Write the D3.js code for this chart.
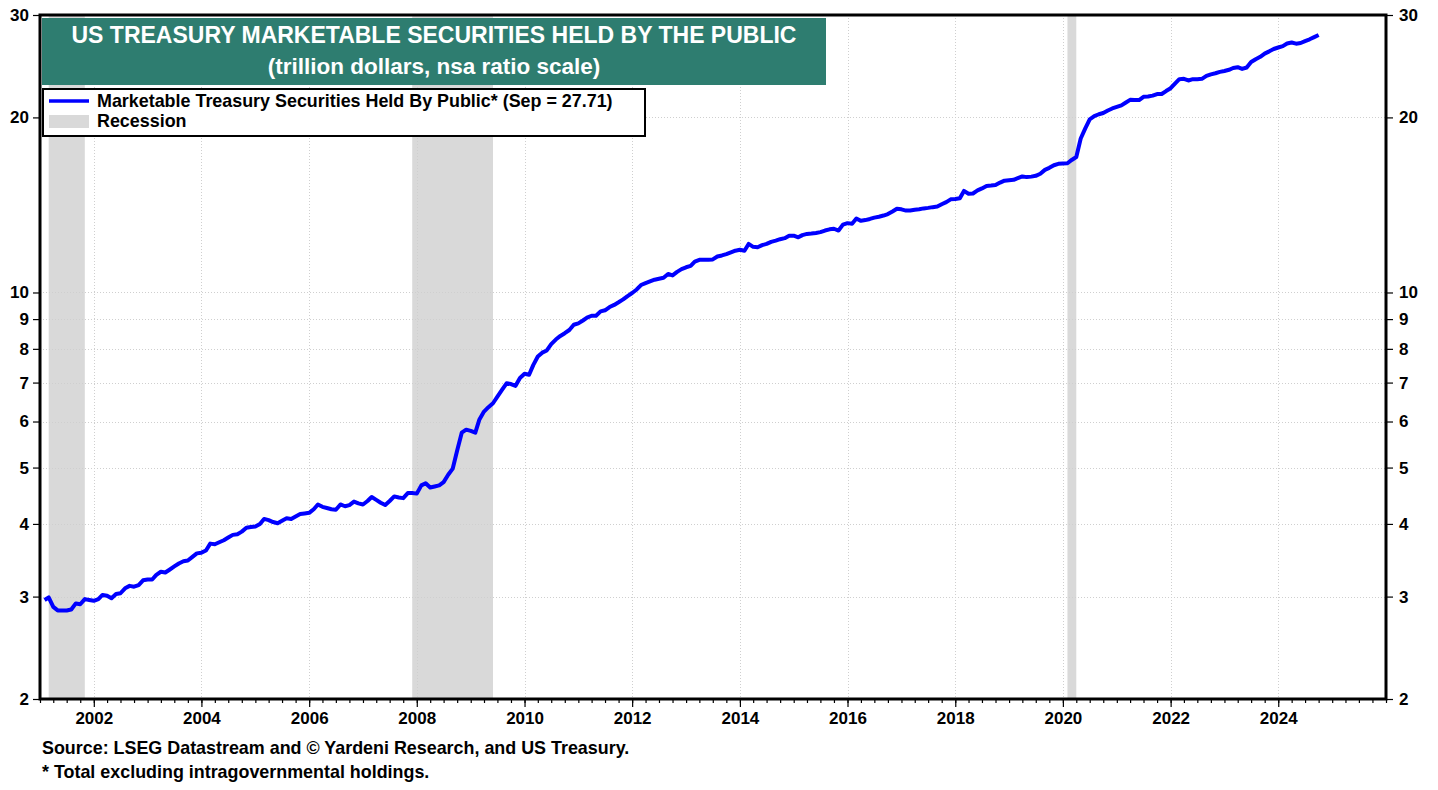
<!DOCTYPE html>
<html>
<head>
<meta charset="utf-8">
<script src="https://cdn.jsdelivr.net/npm/d3@7"></script>
<style>
  body { margin: 0; background: #fff; }
  text { font-family: "Liberation Sans", Arial, sans-serif; font-weight: bold; }
</style>
</head>
<body>
<div id="chart"></div>
<script>
// Marketable Treasury securities held by public, trillion $, monthly from Jan 2001
const firstYear = 2001;
const monthlyValues = [
  // 2001
  2.96, 2.99, 2.88, 2.84, 2.84, 2.84, 2.85, 2.92, 2.91, 2.97, 2.96, 2.95,
  // 2002
  2.97, 3.02, 3.01, 2.98, 3.03, 3.04, 3.10, 3.13, 3.12, 3.14, 3.20, 3.21,
  // 2003
  3.21, 3.27, 3.31, 3.30, 3.34, 3.38, 3.42, 3.45, 3.46, 3.51, 3.56, 3.57,
  // 2004
  3.60, 3.70, 3.69, 3.72, 3.75, 3.79, 3.83, 3.84, 3.88, 3.94, 3.95, 3.96,
  // 2005
  4.00, 4.08, 4.06, 4.03, 4.01, 4.05, 4.09, 4.08, 4.12, 4.16, 4.17, 4.18,
  // 2006
  4.24, 4.32, 4.28, 4.26, 4.24, 4.23, 4.32, 4.29, 4.31, 4.37, 4.34, 4.32,
  // 2007
  4.38, 4.45, 4.40, 4.35, 4.31, 4.38, 4.46, 4.44, 4.43, 4.52, 4.52, 4.51,
  // 2008
  4.66, 4.70, 4.62, 4.64, 4.66, 4.72, 4.86, 4.98, 5.35, 5.74, 5.81, 5.78,
  // 2009
  5.74, 6.05, 6.24, 6.35, 6.45, 6.62, 6.80, 6.98, 6.96, 6.91, 7.13, 7.25,
  // 2010
  7.22, 7.50, 7.76, 7.88, 7.95, 8.15, 8.30, 8.42, 8.51, 8.62, 8.80, 8.85,
  // 2011
  8.95, 9.05, 9.12, 9.12, 9.28, 9.32, 9.44, 9.52, 9.62, 9.73, 9.86, 9.98,
  // 2012
  10.12, 10.30, 10.38, 10.45, 10.52, 10.56, 10.60, 10.76, 10.70, 10.85, 10.97, 11.05,
  // 2013
  11.11, 11.30, 11.38, 11.38, 11.38, 11.40, 11.53, 11.58, 11.64, 11.72, 11.80, 11.84,
  // 2014
  11.80, 12.12, 11.98, 11.96, 12.06, 12.12, 12.22, 12.28, 12.35, 12.40, 12.52, 12.52,
  // 2015
  12.44, 12.55, 12.61, 12.63, 12.66, 12.70, 12.78, 12.84, 12.87, 12.78, 13.08, 13.16,
  // 2016
  13.13, 13.40, 13.28, 13.32, 13.38, 13.45, 13.50, 13.56, 13.64, 13.78, 13.93, 13.90,
  // 2017
  13.83, 13.84, 13.88, 13.90, 13.95, 13.98, 14.02, 14.05, 14.18, 14.30, 14.46, 14.48,
  // 2018
  14.52, 14.95, 14.78, 14.80, 14.98, 15.10, 15.25, 15.27, 15.30, 15.45, 15.57, 15.60,
  // 2019
  15.62, 15.72, 15.83, 15.79, 15.82, 15.87, 16.00, 16.25, 16.38, 16.55, 16.64, 16.66,
  // 2020
  16.68, 16.90, 17.10, 18.40, 19.15, 19.85, 20.10, 20.25, 20.35, 20.55, 20.72, 20.85,
  // 2021
  20.98, 21.20, 21.44, 21.42, 21.42, 21.70, 21.72, 21.80, 21.94, 21.94, 22.20, 22.45,
  // 2022
  22.89, 23.27, 23.30, 23.15, 23.27, 23.27, 23.30, 23.58, 23.72, 23.82, 23.95, 24.04,
  // 2023
  24.15, 24.32, 24.40, 24.23, 24.37, 24.90, 25.18, 25.42, 25.75, 25.98, 26.22, 26.38,
  // 2024
  26.52, 26.80, 26.90, 26.78, 26.85, 27.06, 27.25, 27.48, 27.71
];

// NBER recessions: [peak month, trough month]
const recessions = [["2001-03", "2001-11"], ["2007-12", "2009-06"], ["2020-02", "2020-04"]];

const yTicks = [2, 3, 4, 5, 6, 7, 8, 9, 10, 20, 30];
const xLabelYears = [2002, 2004, 2006, 2008, 2010, 2012, 2014, 2016, 2018, 2020, 2022, 2024];

const titleLines = ["US TREASURY MARKETABLE SECURITIES HELD BY THE PUBLIC", "(trillion dollars, nsa ratio scale)"];
const legendLabels = ["Marketable Treasury Securities Held By Public* (Sep = 27.71)", "Recession"];
const footnotes = ["Source: LSEG Datastream and \u00A9 Yardeni Research, and US Treasury.", "* Total excluding intragovernmental holdings."];

const width = 1438;
const height = 790;
const plotLeft = 40, plotRight = 1386, plotTop = 15, plotBottom = 699;

const parseMonth = d3.timeParse("%Y-%m");
// values plotted at end of month
const series = monthlyValues.map((v, i) => ({ date: new Date(firstYear, i + 1, 1), value: v }));

const x = d3.scaleTime()
  .domain([new Date(2001, 0, 1), new Date(2026, 0, 1)])
  .range([plotLeft, plotRight]);
const y = d3.scaleLog()
  .domain([2, 30])
  .range([plotBottom, plotTop]);

const svg = d3.create("svg")
  .attr("width", width)
  .attr("height", height)
  .attr("viewBox", [0, 0, width, height]);

svg.append("rect").attr("width", width).attr("height", height).attr("fill", "#fff");

// recession bands
svg.append("g")
  .selectAll("rect")
  .data(recessions)
  .join("rect")
  .attr("x", d => x(parseMonth(d[0])))
  .attr("width", d => x(parseMonth(d[1])) - x(parseMonth(d[0])))
  .attr("y", plotTop)
  .attr("height", plotBottom - plotTop)
  .attr("fill", "#d9d9d9");

// grid
const grid = svg.append("g")
  .attr("stroke", "#cfcfcf")
  .attr("stroke-width", 1)
  .attr("stroke-dasharray", "1,2");

grid.selectAll("line.h")
  .data(yTicks.filter(d => d > 2 && d < 30))
  .join("line")
  .attr("class", "h")
  .attr("x1", plotLeft).attr("x2", plotRight)
  .attr("y1", d => Math.round(y(d)) + 0.5)
  .attr("y2", d => Math.round(y(d)) + 0.5);

grid.selectAll("line.v")
  .data(xLabelYears)
  .join("line")
  .attr("class", "v")
  .attr("y1", plotTop).attr("y2", plotBottom)
  .attr("x1", d => Math.round(x(new Date(d, 0, 1))) + 0.5)
  .attr("x2", d => Math.round(x(new Date(d, 0, 1))) + 0.5);

// line
const line = d3.line()
  .x(d => x(d.date))
  .y(d => y(d.value));

svg.append("path")
  .datum(series)
  .attr("fill", "none")
  .attr("stroke", "#0000ff")
  .attr("stroke-width", 4)
  .attr("stroke-linejoin", "round")
  .attr("d", line);

// axes
const yAxisLeft = svg.append("g")
  .attr("transform", `translate(${plotLeft},0)`)
  .call(d3.axisLeft(y).tickValues(yTicks).tickFormat(d3.format("d")).tickSize(7).tickPadding(4));
const yAxisRight = svg.append("g")
  .attr("transform", `translate(${plotRight},0)`)
  .call(d3.axisRight(y).tickValues(yTicks).tickFormat(d3.format("d")).tickSize(7).tickPadding(6));

const quarters = d3.timeMonth.every(3).range(new Date(2001, 0, 1), new Date(2026, 0, 2));
const xMinor = svg.append("g")
  .attr("transform", `translate(0,${plotBottom})`)
  .call(d3.axisBottom(x).tickValues(quarters).tickSize(4).tickFormat(""));
const xMajor = svg.append("g")
  .attr("transform", `translate(0,${plotBottom})`)
  .call(d3.axisBottom(x).tickValues(xLabelYears.map(d => new Date(d, 0, 1)))
    .tickSize(8).tickPadding(5).tickFormat(d3.timeFormat("%Y")));

[yAxisLeft, yAxisRight, xMinor, xMajor].forEach(g => {
  g.select(".domain").remove();
  g.selectAll(".tick line").attr("stroke", "#000").attr("stroke-width", 1.2);
  g.selectAll(".tick text").attr("fill", "#000").attr("font-size", 17)
    .attr("font-family", "'Liberation Sans', Arial, sans-serif").attr("font-weight", "bold");
});

// frame
svg.append("rect")
  .attr("x", plotLeft).attr("y", plotTop)
  .attr("width", plotRight - plotLeft).attr("height", plotBottom - plotTop)
  .attr("fill", "none")
  .attr("stroke", "#000")
  .attr("stroke-width", 3);

// title box
svg.append("rect")
  .attr("x", 42).attr("y", 18)
  .attr("width", 784).attr("height", 67)
  .attr("fill", "#2e7d70");

svg.append("g")
  .selectAll("text")
  .data(titleLines)
  .join("text")
  .attr("x", 434)
  .attr("y", (d, i) => i === 0 ? 43 : 74)
  .attr("text-anchor", "middle")
  .attr("fill", "#fff")
  .attr("font-size", (d, i) => i === 0 ? 23 : 22.5)
  .text(d => d);

// legend
const legend = svg.append("g");
legend.append("rect")
  .attr("x", 43).attr("y", 89)
  .attr("width", 602).attr("height", 47)
  .attr("fill", "#fff")
  .attr("stroke", "#000")
  .attr("stroke-width", 2);
legend.append("line")
  .attr("x1", 49).attr("x2", 89)
  .attr("y1", 101).attr("y2", 101)
  .attr("stroke", "#0000ff")
  .attr("stroke-width", 3.5);
legend.append("rect")
  .attr("x", 49).attr("y", 115)
  .attr("width", 40).attr("height", 13)
  .attr("fill", "#d9d9d9");
legend.selectAll("text")
  .data(legendLabels)
  .join("text")
  .attr("x", 97)
  .attr("y", (d, i) => 107 + i * 20)
  .attr("font-size", 17.9)
  .attr("fill", "#000")
  .text(d => d);

// footnotes
svg.append("g")
  .selectAll("text")
  .data(footnotes)
  .join("text")
  .attr("x", 42)
  .attr("y", (d, i) => 754 + i * 24)
  .attr("font-size", 17.9)
  .attr("fill", "#000")
  .text(d => d);

document.getElementById("chart").appendChild(svg.node());
</script>
</body>
</html>
